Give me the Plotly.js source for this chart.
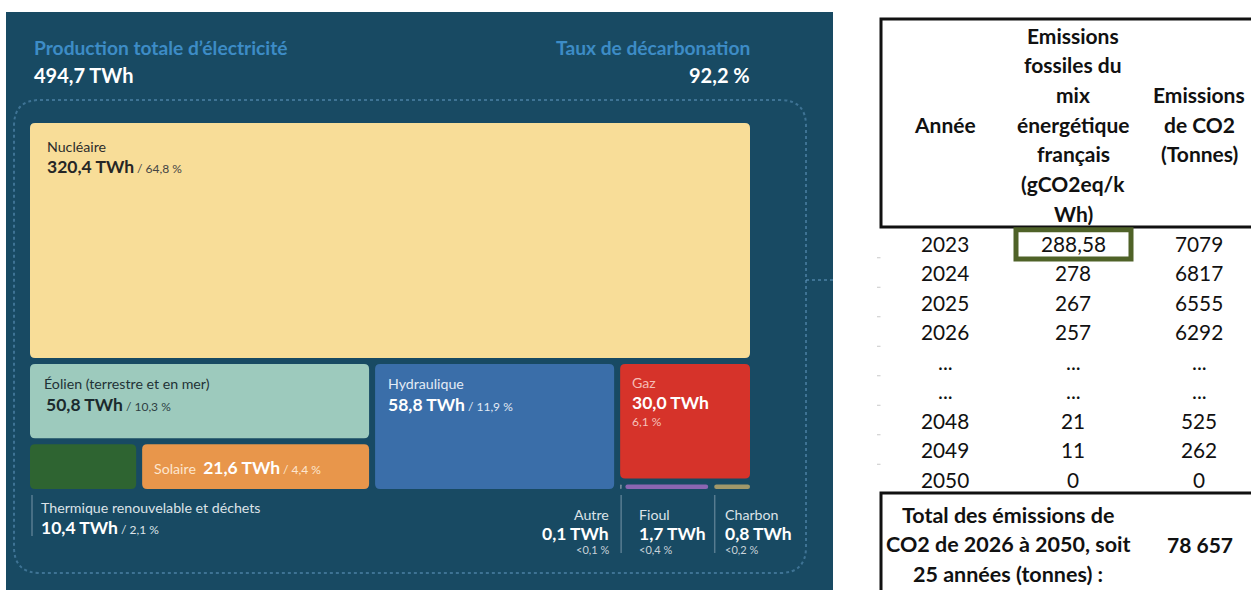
<!DOCTYPE html>
<html><head><meta charset="utf-8">
<script src="https://cdn.plot.ly/plotly-3.0.1.min.js"></script>
<style>html,body{margin:0;padding:0;background:#fff;overflow:hidden}#chart{width:1251px;height:590px}</style>
</head><body><div id="chart"></div>
<script>
// ---------- DATA ----------
const totalLabel = 'Production totale d\u2019électricité';
const totalTWh = 494.7;
const decarbLabel = 'Taux de décarbonation';
const decarbValue = '92,2 %';

const sources = ['Nucléaire', 'Éolien (terrestre et en mer)', 'Thermique renouvelable et déchets', 'Solaire', 'Hydraulique', 'Gaz', 'Autre', 'Fioul', 'Charbon'];
const twh = [320.4, 50.8, 10.4, 21.6, 58.8, 30.0, 0.1, 1.7, 0.8];
const shares = ['64,8 %', '10,3 %', '2,1 %', '4,4 %', '11,9 %', '6,1 %', '<0,1 %', '<0,4 %', '<0,2 %'];

const headYear = ['Année'];
const headIntensity = ['Emissions', 'fossiles du', 'mix', 'énergétique', 'français', '(gCO2eq/k', 'Wh)'];
const headEmissions = ['Emissions', 'de CO2', '(Tonnes)'];
const years = ['2023', '2024', '2025', '2026', '...', '...', '2048', '2049', '2050'];
const intensity = ['288,58', '278', '267', '257', '...', '...', '21', '11', '0'];
const emissions = ['7079', '6817', '6555', '6292', '...', '...', '525', '262', '0'];
const totalText = ['Total des émissions de', 'CO2 de 2026 à 2050, soit', '25 années (tonnes) :'];
const totalValue = '78 657';

// ---------- STYLE ----------
const fillColors = ['#f8dd98', '#9dcabd', '#2e6431', '#e8964b', '#3a6ea9', '#d6332a', '#7f93a3', '#8a66b2', '#a0986a'];
// treemap grouping (indices into sources): v = stacked vertically, h = side by side
const tree = {dir: 'v', kids: [0, {dir: 'h', kids: [{dir: 'v', kids: [1, {dir: 'h', kids: [2, 3]}]}, 4, {dir: 'v', kids: [5, {dir: 'h', kids: [6, 7, 8]}]}]}]};
const FONT = 'Lato, "Open Sans", sans-serif';
const BG = '#184a63';
const NAME = 14.2, VAL = 17.5, PCT = 12;

function fmt(v) { return v.toFixed(1).replace('.', ',') + ' TWh'; }
function sumNode(n) { return typeof n === 'number' ? twh[n] : n.kids.reduce((a, k) => a + sumNode(k), 0); }
function tile(n, x0, y0, x1, y1, out) {
  if (typeof n === 'number') { out[n] = {x0, y0, x1, y1}; return; }
  const tot = sumNode(n);
  let pos = n.dir === 'v' ? y0 : x0;
  n.kids.forEach(k => {
    const f = sumNode(k) / tot;
    if (n.dir === 'v') { const h = (y1 - y0) * f; tile(k, x0, pos, x1, pos + h, out); pos += h; }
    else { const w = (x1 - x0) * f; tile(k, pos, y0, pos + w, y1, out); pos += w; }
  });
}
function rr(x0, y0, x1, y1, r) {
  r = Math.min(r, (x1 - x0) / 2, (y1 - y0) / 2);
  return `M${x0 + r},${y0} L${x1 - r},${y0} Q${x1},${y0} ${x1},${y0 + r} L${x1},${y1 - r} Q${x1},${y1} ${x1 - r},${y1} L${x0 + r},${y1} Q${x0},${y1} ${x0},${y1 - r} L${x0},${y0 + r} Q${x0},${y0} ${x0 + r},${y0} Z`;
}

const shapes = [];
const ann = [];
function A(x, y, text, size, color, xanchor, extra) {
  ann.push(Object.assign({x, y, xref: 'x', yref: 'y', text, showarrow: false, xanchor: xanchor || 'left', yanchor: 'middle',
    borderpad: 0, borderwidth: 0, font: {family: FONT, size, color}}, extra || {}));
}
function P(path, fill, line) {
  shapes.push({type: 'path', xref: 'x', yref: 'y', path, fillcolor: fill, line: line || {width: 0}, layer: 'above'});
}
function L(x0, y0, x1, y1, color, width, dash) {
  shapes.push({type: 'line', xref: 'x', yref: 'y', x0, y0, x1, y1, line: {color, width, dash: dash || 'solid'}, layer: 'above'});
}

// ---------- LEFT PANEL ----------
shapes.push({type: 'rect', xref: 'x', yref: 'y', x0: 6, y0: 12, x1: 833, y1: 590, fillcolor: BG, line: {width: 0}, layer: 'above'});
P(rr(14, 100, 806, 573, 26), 'rgba(0,0,0,0)', {color: 'rgba(95,150,190,0.55)', width: 2, dash: 'dot'});
L(806, 280, 833, 280, 'rgba(95,150,190,0.55)', 2, 'dot');

A(34, 47, '<b>' + totalLabel + '</b>', 19.2, '#3d8cc6');
A(34, 75, '<b>' + totalTWh.toFixed(1).replace('.', ',') + ' TWh</b>', 20, '#ffffff');
A(750, 47, '<b>' + decarbLabel + '</b>', 19.2, '#3d8cc6', 'right');
A(750, 75, '<b>' + decarbValue + '</b>', 20, '#ffffff', 'right');

const rects = {};
const GAP = 6;
tile(tree, 30, 123, 750 + GAP, 489 + GAP, rects);
sources.forEach((s, i) => {
  const r = rects[i];
  const x1 = Math.max(r.x1 - GAP, r.x0 + 1.5);
  P(rr(r.x0, r.y0, x1, r.y1 - GAP, 5), fillColors[i]);
});

function small(t, c) { return `<span style="font-size:${PCT}px;color:${c}">${t}</span>`; }
// Nucléaire
{ const r = rects[0];
  A(r.x0 + 17, r.y0 + 23, sources[0], NAME, '#2c2c2c');
  A(r.x0 + 17, r.y0 + 43, '<b>' + fmt(twh[0]) + '</b>' + small(' / ' + shares[0], '#444'), VAL, '#262626'); }
// Éolien
{ const r = rects[1];
  A(r.x0 + 14, r.y0 + 20, sources[1], NAME, '#1f3236');
  A(r.x0 + 16, r.y0 + 41, '<b>' + fmt(twh[1]) + '</b>' + small(' / ' + shares[1], '#2d3f43'), VAL, '#1b2a2d'); }
// Hydraulique
{ const r = rects[4];
  A(r.x0 + 13, r.y0 + 20, sources[4], NAME, '#e3ebf5');
  A(r.x0 + 13, r.y0 + 41, '<b>' + fmt(twh[4]) + '</b>' + small(' / ' + shares[4], '#e3ebf5'), VAL, '#ffffff'); }
// Gaz
{ const r = rects[5];
  A(r.x0 + 12, r.y0 + 19, sources[5], NAME, '#f5bcb5');
  A(r.x0 + 12, r.y0 + 38.5, '<b>' + fmt(twh[5]) + '</b>', VAL, '#ffffff');
  A(r.x0 + 12, r.y0 + 57.5, shares[5], PCT, '#f5c2bb'); }
// Solaire
{ const r = rects[3];
  A(r.x0 + 12, (r.y0 + r.y1 - GAP) / 2 + 1, `<span style="font-size:${NAME}px;color:#fde6cf">` + sources[3] + '  </span><b>' + fmt(twh[3]) + '</b>' + small(' / ' + shares[3], '#fde6cf'), VAL, '#ffffff'); }
// Thermique (label below)
{ const r = rects[2];
  L(r.x0 + 2, 495, r.x0 + 2, 536, 'rgba(140,165,182,0.55)', 1.5);
  A(r.x0 + 11, 507, sources[2], NAME, '#dce3e8');
  A(r.x0 + 11, 527, '<b>' + fmt(twh[2]) + '</b>' + small(' / ' + shares[2], '#dce3e8'), VAL, '#ffffff'); }
// Autre (right-aligned, below)
{ const r = rects[6];
  L(r.x0 + 1, 495, r.x0 + 1, 553, 'rgba(140,165,182,0.55)', 1.5);
  A(r.x0 - 11, 514, sources[6], NAME, '#dce3e8', 'right');
  A(r.x0 - 11, 533, '<b>' + fmt(twh[6]) + '</b>', VAL, '#ffffff', 'right');
  A(r.x0 - 11, 549, shares[6], PCT - 1, '#c9d3da', 'right'); }
// Fioul, Charbon
[7, 8].forEach(i => {
  const r = rects[i];
  const off = i === 7 ? 14 : 11;
  if (i === 8) L(r.x0 + 0.5, 495, r.x0 + 0.5, 553, 'rgba(140,165,182,0.55)', 1.5);
  A(r.x0 + off, 514, sources[i], NAME, '#dce3e8');
  A(r.x0 + off, 533, '<b>' + fmt(twh[i]) + '</b>', VAL, '#ffffff');
  A(r.x0 + off, 549, shares[i], PCT - 1, '#c9d3da');
});

// ---------- TABLE ----------
const colX = [945, 1073, 1199];
const HEAD_TOP = 35, HEAD_STEP = 29.7;
const ROW_TOP = 243, ROW_STEP = 29.5;
const TFONT = 'Lato, "Liberation Sans", sans-serif';
function T(x, y, text, size, bold) {
  ann.push({x, y, xref: 'x', yref: 'y', text: bold ? '<b>' + text + '</b>' : text, showarrow: false, xanchor: 'center', yanchor: 'middle',
    borderpad: 0, font: {family: TFONT, size, color: '#111'}});
}
shapes.push({type: 'rect', xref: 'x', yref: 'y', x0: 881, y0: 19, x1: 1262, y1: 227, fillcolor: 'rgba(0,0,0,0)', line: {color: '#111', width: 3}, layer: 'above'});
T(colX[0], HEAD_TOP + 3 * HEAD_STEP, headYear[0], 21, true);
headIntensity.forEach((t, i) => T(colX[1], HEAD_TOP + i * HEAD_STEP, t, 21, true));
headEmissions.forEach((t, i) => T(colX[2], HEAD_TOP + (i + 2) * HEAD_STEP, t, 21, true));
years.forEach((y, i) => {
  const yy = ROW_TOP + i * ROW_STEP;
  T(colX[0], yy, y, 20.8, false);
  T(colX[1], yy, intensity[i], 20.8, false);
  T(colX[2], yy, emissions[i], 20.8, false);
  if (i < years.length - 1) L(877, yy + ROW_STEP / 2, 880.5, yy + ROW_STEP / 2, '#c8c8c8', 1);
});
// highlight of 2023 intensity
shapes.push({type: 'rect', xref: 'x', yref: 'y', x0: 1016, y0: 229.8, x1: 1131, y1: 259, fillcolor: 'rgba(0,0,0,0)', line: {color: '#4f6228', width: 5}, layer: 'above'});
// total box
shapes.push({type: 'rect', xref: 'x', yref: 'y', x0: 881, y0: 493, x1: 1262, y1: 600, fillcolor: 'rgba(0,0,0,0)', line: {color: '#111', width: 3}, layer: 'above'});
totalText.forEach((t, i) => T(1008, 515 + i * 29.3, t, 21.5, true));
T(1200, 544, totalValue, 21, true);

const layout = {
  width: 1251, height: 590, margin: {l: 0, r: 0, t: 0, b: 0, pad: 0},
  paper_bgcolor: '#ffffff', plot_bgcolor: '#ffffff', showlegend: false, hovermode: false,
  xaxis: {range: [0, 1251], visible: false, fixedrange: true},
  yaxis: {range: [590, 0], visible: false, fixedrange: true},
  shapes, annotations: ann
};
Plotly.newPlot('chart', [{type: 'scatter', x: [], y: [], hoverinfo: 'skip'}], layout, {staticPlot: true, displayModeBar: false});
</script></body></html>
